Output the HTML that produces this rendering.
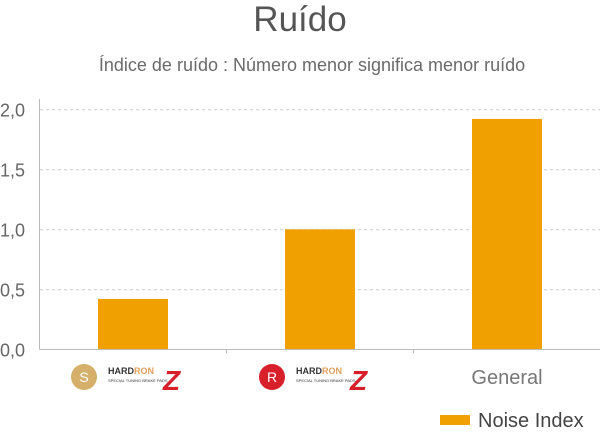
<!DOCTYPE html>
<html><head><meta charset="utf-8"><style>
body{margin:0;background:#fff;font-family:"Liberation Sans",sans-serif}
</style></head><body>
<svg width="600" height="430" xmlns="http://www.w3.org/2000/svg">
<text x="300" y="31" text-anchor="middle" font-size="35" fill="#555">Ruído</text>
<text x="312" y="71" text-anchor="middle" font-size="18" fill="#6a6a6a">Índice de ruído : Número menor significa menor ruído</text>
<g id="grid"></g>
<g id="bars"></g>
<g id="yt"></g>
<line x1="39.5" y1="99" x2="39.5" y2="349.5" stroke="#bbb"/>
<line x1="39.5" y1="349.5" x2="600" y2="349.5" stroke="#bbb"/>
<line x1="226.5" y1="349" x2="226.5" y2="353" stroke="#bbb"/>
<line x1="413.5" y1="349" x2="413.5" y2="353" stroke="#bbb"/>
<g>
<circle cx="84" cy="377" r="13" fill="#d4b06a"/><text x="84" y="382" text-anchor="middle" font-size="14" fill="#fff">S</text>
<text x="108" y="374" font-size="9" font-weight="bold" fill="#333">HARD<tspan fill="#e0a060">RON</tspan></text>
<text x="108" y="382" font-size="4" fill="#333">SPECIAL TUNING BRAKE PADS</text>
<text x="163" y="390" font-size="28" font-weight="bold" font-style="italic" fill="#d8202a">Z</text>
</g>
<g>
<circle cx="272" cy="377" r="13" fill="#d8202a"/><text x="272" y="382" text-anchor="middle" font-size="14" fill="#fff">R</text>
<text x="296" y="374" font-size="9" font-weight="bold" fill="#333">HARD<tspan fill="#e0a060">RON</tspan></text>
<text x="296" y="382" font-size="4" fill="#333">SPECIAL TUNING BRAKE PADS</text>
<text x="350" y="390" font-size="28" font-weight="bold" font-style="italic" fill="#d8202a">Z</text>
</g>
<text x="507" y="384" text-anchor="middle" font-size="20" fill="#777">General</text>
<rect x="440" y="415" width="30" height="10" fill="#f0a000"/>
<text x="478" y="427" font-size="20" fill="#444">Noise Index</text>
</svg>
<script>
const categories=["Hardron Z S","Hardron Z R","General"];
const values=[0.42,1.0,1.92];
const ticks=[0,0.5,1.0,1.5,2.0];
const tickLabels=["0,0","0,5","1,0","1,5","2,0"];
const NS="http://www.w3.org/2000/svg";
const y=v=>349.3-v*120;
const x0=39.5,cw=187;
const xc=i=>x0+cw*(i+0.5);
const g=document.getElementById('grid'),b=document.getElementById('bars'),yt=document.getElementById('yt');
ticks.forEach((t,i)=>{
 if(t>0){const l=document.createElementNS(NS,'line');
 
 
 l.setAttribute('x1',40);l.setAttribute('x2',600);l.setAttribute('y1',y(t)+0.5);l.setAttribute('y2',y(t)+0.5);
 l.setAttribute('stroke','#ccc');l.setAttribute('stroke-dasharray','3,3');g.appendChild(l);}
 const tx=document.createElementNS(NS,'text');
 
 
 tx.setAttribute('x',0);tx.setAttribute('y',y(t)+7);tx.setAttribute('font-size','18');tx.setAttribute('fill','#666');
 tx.textContent=tickLabels[i];yt.appendChild(tx);
});
values.forEach((v,i)=>{
 const r=document.createElementNS(NS,'rect');
 
 
 r.setAttribute('x',xc(i)-35);r.setAttribute('width',70);
 r.setAttribute('y',y(v));r.setAttribute('height',y(0)-y(v));r.setAttribute('fill','#f0a000');
 b.appendChild(r);
});
</script>
</body></html>
